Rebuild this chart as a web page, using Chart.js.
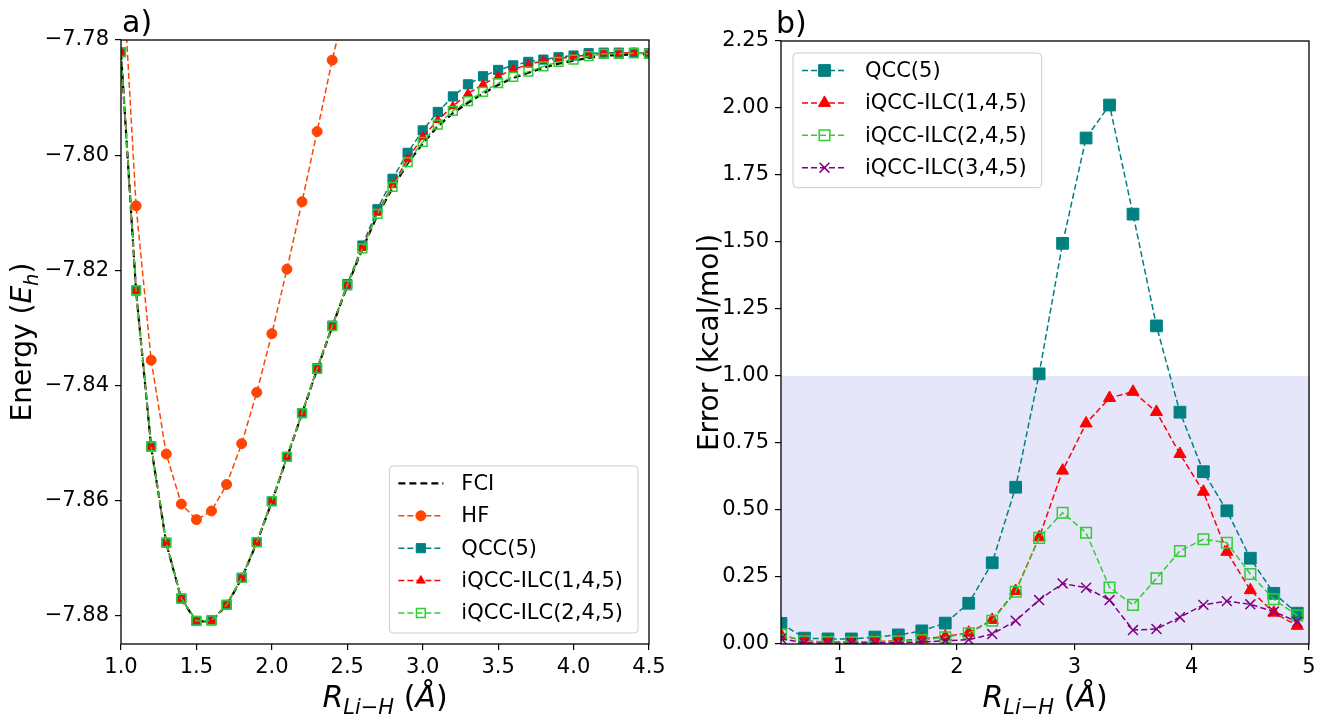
<!DOCTYPE html>
<html>
<head>
<meta charset="utf-8">
<script src="https://cdn.jsdelivr.net/npm/chart.js@4.4.0/dist/chart.umd.min.js"></script>
<style>
  html, body { margin: 0; padding: 0; background: #fff; overflow: hidden; }
  #wrap { position: relative; width: 1325px; height: 715px; }
  canvas { display: block; position: absolute; top: 0; }
  #energyChart { left: 0; }
  #errorChart { left: 662px; }
</style>
</head>
<body>
<div id="wrap">
  <canvas id="energyChart" width="700" height="715"></canvas>
  <canvas id="errorChart" width="663" height="715"></canvas>
</div>
<script>
// PANEL A — potential energy curves of LiH

var bondLengthsA = [1.0, 1.1, 1.2, 1.3, 1.4, 1.5, 1.6, 1.7, 1.8, 1.9,
                    2.0, 2.1, 2.2, 2.3, 2.4, 2.5, 2.6, 2.7, 2.8, 2.9,
                    3.0, 3.1, 3.2, 3.3, 3.4, 3.5, 3.6, 3.7, 3.8, 3.9,
                    4.0, 4.1, 4.2, 4.3, 4.4, 4.5];

var fciEnergy = [-7.7822, -7.8236, -7.8507, -7.8674, -7.8771, -7.8810, -7.8809, -7.8782, -7.8735, -7.8673,
                 -7.8602, -7.8525, -7.8449, -7.8372, -7.8298, -7.8227, -7.8163, -7.8104, -7.8057, -7.8014,
                 -7.7980, -7.7950, -7.7927, -7.7909, -7.7893, -7.7878, -7.7866, -7.7857, -7.7848, -7.7841,
                 -7.7836, -7.7831, -7.7827, -7.7826, -7.7825, -7.7825];

var hfEnergy = [-7.7623, -7.8088, -7.8356, -7.8519, -7.8606, -7.8633, -7.8618, -7.8572, -7.8501, -7.8412,
                -7.8310, -7.8198, -7.8081, -7.7959, -7.7835, -7.7725, null, null, null, null,
                null, null, null, null, null, null, null, null, null, null,
                null, null, null, null, null, null];

var qccEnergy = [-7.7821, -7.8235, -7.8506, -7.8673, -7.8770, -7.8809, -7.8808, -7.8781, -7.8734, -7.8672,
                 -7.8601, -7.8524, -7.8448, -7.8370, -7.8296, -7.8224, -7.8157, -7.8094, -7.8041, -7.7996,
                 -7.7957, -7.7925, -7.7898, -7.7877, -7.7863, -7.7852, -7.7844, -7.7838, -7.7834, -7.7830,
                 -7.7827, -7.7823, -7.7822, -7.7822, -7.7822, -7.7823];

var ilc145Energy = [-7.7821, -7.8235, -7.8506, -7.8673, -7.8770, -7.8809, -7.8808, -7.8781, -7.8734, -7.8672,
                    -7.8601, -7.8524, -7.8448, -7.8371, -7.8297, -7.8226, -7.8161, -7.8100, -7.8052, -7.8007,
                    -7.7968, -7.7939, -7.7915, -7.7893, -7.7877, -7.7863, -7.7851, -7.7843, -7.7836, -7.7832,
                    -7.7829, -7.7826, -7.7823, -7.7823, -7.7822, -7.7823];

var ilc245Energy = [-7.7821, -7.8235, -7.8506, -7.8673, -7.8770, -7.8809, -7.8808, -7.8781, -7.8734, -7.8672,
                    -7.8601, -7.8524, -7.8448, -7.8371, -7.8297, -7.8226, -7.8162, -7.8102, -7.8055, -7.8012,
                    -7.7977, -7.7947, -7.7923, -7.7906, -7.7890, -7.7875, -7.7864, -7.7855, -7.7846, -7.7838,
                    -7.7834, -7.7828, -7.7824, -7.7824, -7.7823, -7.7824];

var energyTicks = [-7.88, -7.86, -7.84, -7.82, -7.80, -7.78];
var bondTicksA = [1.0, 1.5, 2.0, 2.5, 3.0, 3.5, 4.0, 4.5];


// PANEL B — errors with respect to FCI

var bondLengthsB = [0.5, 0.7, 0.9, 1.1, 1.3, 1.5, 1.7, 1.9, 2.1, 2.3, 2.5, 2.7,
                    2.9, 3.1, 3.3, 3.5, 3.7, 3.9, 4.1, 4.3, 4.5, 4.7, 4.9];

var qccError = [0.077, 0.022, 0.019, 0.019, 0.026, 0.034, 0.049, 0.078, 0.152, 0.303, 0.585, 1.008,
                1.495, 1.888, 2.011, 1.604, 1.187, 0.865, 0.643, 0.497, 0.320, 0.189, 0.115];

var ilc145Error = [0.034, 0.011, 0.008, 0.007, 0.009, 0.012, 0.019, 0.028, 0.042, 0.090, 0.198, 0.398,
                   0.647, 0.823, 0.918, 0.941, 0.866, 0.709, 0.568, 0.344, 0.201, 0.117, 0.068];

var ilc245Error = [0.036, 0.010, 0.007, 0.006, 0.008, 0.010, 0.015, 0.025, 0.040, 0.087, 0.195, 0.396,
                   0.490, 0.415, 0.211, 0.146, 0.245, 0.347, 0.391, 0.378, 0.261, 0.167, 0.106];

var ilc345Error = [0.020, 0.004, 0.003, 0.003, 0.004, 0.005, 0.007, 0.012, 0.016, 0.037, 0.087, 0.164,
                   0.226, 0.210, 0.164, 0.052, 0.056, 0.100, 0.146, 0.160, 0.148, 0.121, 0.083];

var errorTicks = [0, 0.25, 0.5, 0.75, 1.0, 1.25, 1.5, 1.75, 2.0, 2.25];
var bondTicksB = [1, 2, 3, 4, 5];
var chemAccuracy = 1.0;   // kcal/mol, shaded band


var FONT = "'DejaVu Sans'";
Chart.defaults.font.family = FONT;
Chart.defaults.font.size = 21;
Chart.defaults.color = "#000";

function pairs(xs, ys) {
    return xs.map(function (x, i) { return { x: x, y: ys[i] }; });
}

function series(label, xs, ys, color, style, radius, order, extra) {
    var ds = {
        label: label,
        data: pairs(xs, ys),
        borderColor: color,
        borderWidth: 1.5,
        borderDash: [6, 3],
        pointStyle: style,
        pointRadius: radius,
        pointBackgroundColor: color,
        pointBorderColor: color,
        pointBorderWidth: 1,
        fill: false,
        tension: 0,
        order: order
    };
    for (var k in extra) ds[k] = extra[k];
    return ds;
}

// text with italic / subscript pieces, centred on the origin
function drawRich(ctx, parts, size) {
    var fonts = parts.map(function (p) {
        return (p.it ? "italic " : "") + (p.sub ? size * 0.7 : size) + "px " + FONT;
    });
    var widths = parts.map(function (p, i) {
        ctx.font = fonts[i];
        return ctx.measureText(p.t).width;
    });
    var total = widths.reduce(function (a, b) { return a + b; }, 0);
    var x = -total / 2;
    ctx.textAlign = "left";
    ctx.textBaseline = "alphabetic";
    parts.forEach(function (p, i) {
        ctx.font = fonts[i];
        ctx.fillText(p.t, x, p.sub ? size * 0.24 : 0);
        x += widths[i];
    });
}

function drawLegend(chart, corner) {
    var ctx = chart.ctx, area = chart.chartArea;
    var sets = chart.data.datasets;
    ctx.font = "21px " + FONT;
    var textW = Math.max.apply(null, sets.map(function (d) { return ctx.measureText(d.label).width; }));
    var rowH = 32.4;
    var w = 72 + textW + 15;
    var h = 17.5 + (sets.length - 1) * rowH + 20;
    var x0, y0;
    if (corner === "lowerRight") {
        x0 = area.right - 11 - w;
        y0 = area.bottom - 11 - h;
    } else {
        x0 = area.left + 12;
        y0 = area.top + 12;
    }
    ctx.save();
    ctx.beginPath();
    ctx.roundRect(x0, y0, w, h, 4);
    ctx.fillStyle = "rgba(255,255,255,0.8)";
    ctx.fill();
    ctx.lineWidth = 1;
    ctx.strokeStyle = "#cccccc";
    ctx.stroke();

    sets.forEach(function (d, i) {
        var cy = y0 + 17.5 + i * rowH;
        ctx.setLineDash(d.borderDash || []);
        ctx.lineWidth = d.borderWidth;
        ctx.strokeStyle = d.borderColor;
        ctx.beginPath();
        ctx.moveTo(x0 + 9, cy);
        ctx.lineTo(x0 + 54, cy);
        ctx.stroke();
        ctx.setLineDash([]);
        if (d.pointRadius > 0) {
            ctx.fillStyle = d.pointBackgroundColor;
            ctx.strokeStyle = d.pointBorderColor;
            ctx.lineWidth = d.pointBorderWidth;
            Chart.helpers.drawPoint(ctx, {
                pointStyle: d.pointStyle, radius: d.pointRadius,
                rotation: 0, borderWidth: d.pointBorderWidth
            }, x0 + 31.5, cy);
        }
        ctx.fillStyle = "#000";
        ctx.font = "21px " + FONT;
        ctx.textAlign = "left";
        ctx.textBaseline = "middle";
        ctx.fillText(d.label, x0 + 72, cy + 1);
    });
    ctx.restore();
}

var panelDecor = {
    id: "panelDecor",
    beforeDatasetsDraw: function (chart, args, o) {
        if (o.band == null) return;
        var a = chart.chartArea, y = chart.scales.y;
        var top = y.getPixelForValue(o.band), bottom = y.getPixelForValue(0);
        chart.ctx.save();
        chart.ctx.fillStyle = "#E6E6FA";
        chart.ctx.fillRect(a.left, top, a.right - a.left, bottom - top);
        chart.ctx.restore();
    },
    afterDraw: function (chart, args, o) {
        var ctx = chart.ctx, a = chart.chartArea;
        ctx.save();
        // frame
        ctx.strokeStyle = "#000";
        ctx.lineWidth = 1.3;
        ctx.strokeRect(a.left, a.top, a.right - a.left, a.bottom - a.top);
        // panel label
        ctx.fillStyle = "#000";
        ctx.font = "30px " + FONT;
        ctx.textAlign = "left";
        ctx.textBaseline = "alphabetic";
        ctx.fillText(o.panel, a.left + o.panelDx, a.top - 8);
        // x title
        ctx.save();
        ctx.translate((a.left + a.right) / 2, o.xTitleY);
        drawRich(ctx, o.xTitle, 30);
        ctx.restore();
        // y title
        ctx.save();
        ctx.translate(o.yTitleX, (a.top + a.bottom) / 2);
        ctx.rotate(-Math.PI / 2);
        drawRich(ctx, o.yTitle, 28);
        ctx.restore();
        ctx.restore();
        drawLegend(chart, o.legend);
    }
};

function axes(xMin, xMax, xTicks, xFmt, yMin, yMax, yTicks, yFmt, yWidth) {
    var tickGrid = { drawOnChartArea: false, drawTicks: true, tickLength: 6, color: "#000", lineWidth: 1.2 };
    return {
        x: {
            type: "linear", min: xMin, max: xMax,
            border: { display: false },
            grid: tickGrid,
            ticks: { padding: 5, callback: xFmt, maxRotation: 0, autoSkip: false },
            afterBuildTicks: function (s) { s.ticks = xTicks.map(function (v) { return { value: v }; }); },
            afterFit: function (s) { s.height = 71; s.paddingLeft = 0; s.paddingRight = 0; }
        },
        y: {
            type: "linear", min: yMin, max: yMax,
            border: { display: false },
            grid: tickGrid,
            ticks: { padding: 6, callback: yFmt, autoSkip: false },
            afterBuildTicks: function (s) { s.ticks = yTicks.map(function (v) { return { value: v }; }); },
            afterFit: function (s) { s.width = yWidth; s.paddingTop = 0; s.paddingBottom = 0; }
        }
    };
}

var rTitle = [{ t: "R", it: true }, { t: "Li\u2212H", it: true, sub: true }, { t: " (" }, { t: "\u00C5", it: true }, { t: ")" }];

// LEFT — energies
new Chart(document.getElementById("energyChart"), {
    type: "line",
    data: {
        datasets: [
            series("FCI", bondLengthsA, fciEnergy, "#000000", "circle", 0, 5,
                   { borderWidth: 2.2, borderDash: [7, 4] }),
            series("HF", bondLengthsA, hfEnergy, "#FF4500", "circle", 5, 4, {}),
            series("QCC(5)", bondLengthsA, qccEnergy, "#008080", "rect", 6.5, 3, {}),
            series("iQCC-ILC(1,4,5)", bondLengthsA, ilc145Energy, "#FF0000", "triangle", 5, 2, {}),
            series("iQCC-ILC(2,4,5)", bondLengthsA, ilc245Energy, "#32CD32", "rect", 6.2, 1,
                   { pointBackgroundColor: "rgba(0,0,0,0)", pointBorderWidth: 1.5 })
        ]
    },
    options: {
        responsive: false,
        animation: false,
        layout: { padding: { left: 0, top: 40, right: 51, bottom: 0 } },
        scales: axes(1.0, 4.5, bondTicksA, function (v) { return Number(v).toFixed(1); },
                     -7.8849, -7.78, energyTicks,
                     function (v) { return Number(v).toFixed(2).replace("-", "\u2212"); }, 121),
        plugins: {
            legend: { display: false },
            tooltip: { enabled: false },
            panelDecor: {
                panel: "a)", panelDx: 1, legend: "lowerRight",
                xTitle: rTitle, xTitleY: 707,
                yTitle: [{ t: "Energy (" }, { t: "E", it: true }, { t: "h", it: true, sub: true }, { t: ")" }],
                yTitleX: 31
            }
        }
    },
    plugins: [panelDecor]
});

// RIGHT — errors
new Chart(document.getElementById("errorChart"), {
    type: "line",
    data: {
        datasets: [
            series("QCC(5)", bondLengthsB, qccError, "#008080", "rect", 8.3, 4, {}),
            series("iQCC-ILC(1,4,5)", bondLengthsB, ilc145Error, "#FF0000", "triangle", 7, 3, {}),
            series("iQCC-ILC(2,4,5)", bondLengthsB, ilc245Error, "#32CD32", "rect", 7.5, 2,
                   { pointBackgroundColor: "rgba(0,0,0,0)", pointBorderWidth: 1.5 }),
            series("iQCC-ILC(3,4,5)", bondLengthsB, ilc345Error, "#800080", "crossRot", 7, 1,
                   { pointBorderWidth: 1.5 })
        ]
    },
    options: {
        responsive: false,
        animation: false,
        layout: { padding: { left: 0, top: 41, right: 16, bottom: 0 } },
        scales: axes(0.5, 5, bondTicksB, function (v) { return String(v); },
                     0, 2.25, errorTicks, function (v) { return Number(v).toFixed(2); }, 119),
        plugins: {
            legend: { display: false },
            tooltip: { enabled: false },
            panelDecor: {
                panel: "b)", panelDx: -5, legend: "upperLeft", band: chemAccuracy,
                xTitle: rTitle, xTitleY: 707,
                yTitle: [{ t: "Error (kcal/mol)" }],
                yTitleX: 56
            }
        }
    },
    plugins: [panelDecor]
});
</script>
</body>
</html>
